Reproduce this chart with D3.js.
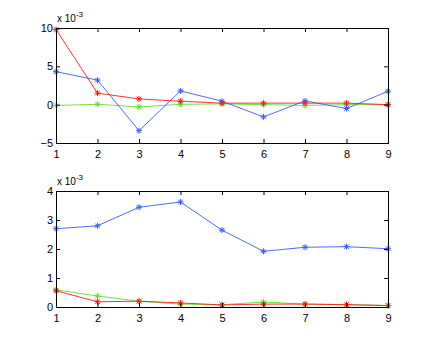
<!DOCTYPE html>
<html>
<head>
<meta charset="utf-8">
<script src="https://cdn.jsdelivr.net/npm/d3@7"></script>
<style>
  body { margin: 0; background: #fff; }
  text { font-family: "Liberation Sans", Arial, sans-serif; font-size: 10px; fill: #000; }
</style>
</head>
<body>
<div id="chart"></div>
<script>
// valores en unidades de 1e-3
const xs = [1, 2, 3, 4, 5, 6, 7, 8, 9];

const topRed   = [9.8, 1.5, 0.75, 0.45, 0.2, 0.2, 0.2, 0.2, 0.0];
const topBlue  = [4.3, 3.2, -3.4, 1.8, 0.45, -1.6, 0.5, -0.5, 1.75];
const topGreen = [-0.1, 0.05, -0.3, 0.05, 0.1, 0.0, -0.1, 0.0, 0.0];

const botBlue  = [2.7, 2.8, 3.44, 3.62, 2.65, 1.92, 2.06, 2.08, 2.01];
const botGreen = [0.59, 0.38, 0.2, 0.1, 0.08, 0.17, 0.1, 0.08, 0.05];
const botRed   = [0.56, 0.18, 0.2, 0.14, 0.07, 0.1, 0.1, 0.08, 0.05];

const topTicks = [-5, 0, 5, 10];
const botTicks = [0, 1, 2, 3, 4];

const colors = { red: '#ff1a1a', blue: '#3a5cff', green: '#5fe02a' };

const width = 429, height = 346;
const svg = d3.select('#chart').append('svg')
    .attr('width', width)
    .attr('height', height);

// Dibujar un panel
function drawPanel(top, bottom, yDomain, yTicks, series) {
    const x = d3.scaleLinear().domain([1, 9]).range([56, 388]);
    const y = d3.scaleLinear().domain(yDomain).range([bottom, top]);
    const g = svg.append('g');

    // lineas
    series.forEach(s => {
        const line = d3.line().x((d, i) => x(xs[i])).y(d => y(d));
        g.append('path')
            .datum(s.values)
            .attr('fill', 'none')
            .attr('stroke', s.color)
            .attr('stroke-width', 0.9)
            .attr('d', line);
    });

    // marcadores asterisco
    series.forEach(s => {
        s.values.forEach((v, i) => {
            const cx = x(xs[i]), cy = y(v), r = 3;
            const m = g.append('g').attr('stroke', s.color).attr('stroke-width', 1);
            m.append('line').attr('x1', cx - r).attr('x2', cx + r).attr('y1', cy).attr('y2', cy);
            m.append('line').attr('x1', cx).attr('x2', cx).attr('y1', cy - r).attr('y2', cy + r);
            m.append('line').attr('x1', cx - r * 0.75).attr('x2', cx + r * 0.75).attr('y1', cy - r * 0.75).attr('y2', cy + r * 0.75);
            m.append('line').attr('x1', cx - r * 0.75).attr('x2', cx + r * 0.75).attr('y1', cy + r * 0.75).attr('y2', cy - r * 0.75);
        });
    });

    // marco
    g.append('rect')
        .attr('x', 56.5).attr('y', top + 0.5)
        .attr('width', 332).attr('height', bottom - top)
        .attr('fill', 'none').attr('stroke', '#000').attr('stroke-width', 1);

    // ejes con ticks hacia dentro
    const axB = d3.axisBottom(x).tickValues(xs).tickSize(-4).tickPadding(7).tickFormat(d3.format('d'));
    const axT = d3.axisTop(x).tickValues(xs).tickSize(-4).tickFormat('');
    const axL = d3.axisLeft(y).tickValues(yTicks).tickSize(-4).tickPadding(3).tickFormat(d3.format('d'));
    const axR = d3.axisRight(y).tickValues(yTicks).tickSize(-4).tickFormat('');

    [[axB, `translate(0,${bottom})`], [axT, `translate(0,${top})`],
     [axL, 'translate(56,0)'], [axR, 'translate(388,0)']].forEach(([ax, tr]) => {
        const a = g.append('g').attr('transform', tr).call(ax);
        a.select('.domain').remove();
        a.selectAll('line').attr('stroke', '#000');
        a.selectAll('text').style('font-family', '"Liberation Sans", Arial, sans-serif').style('font-size', '11px');
    });

    // etiqueta de exponente
    const lab = g.append('text').attr('x', 57).attr('y', top - 6).style('font-size', '10px');
    lab.append('tspan').text('x 10');
    lab.append('tspan').attr('dy', -5).style('font-size', '8px').text('-3');
}

drawPanel(28, 143, [-5, 10], topTicks, [
    { values: topGreen, color: colors.green },
    { values: topBlue, color: colors.blue },
    { values: topRed, color: colors.red }
]);

drawPanel(191, 307, [0, 4], botTicks, [
    { values: botBlue, color: colors.blue },
    { values: botGreen, color: colors.green },
    { values: botRed, color: colors.red }
]);
</script>
</body>
</html>
